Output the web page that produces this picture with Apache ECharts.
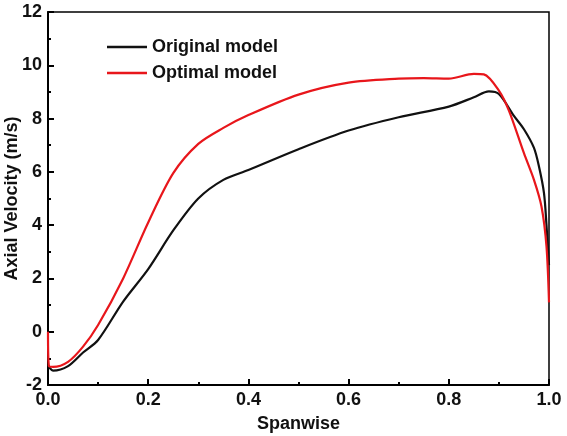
<!DOCTYPE html>
<html>
<head>
<meta charset="UTF-8" />
<title>Axial Velocity</title>
<script src="https://cdn.jsdelivr.net/npm/echarts@6/dist/echarts.min.js"></script>
<style type="text/css">
body{
	margin: 0px;
	background: #fff;
}
#chart{
	width: 567px;
	height: 436px;
}
</style>
</head>
<body>

<div id="chart"></div>

<script type="text/javascript">

// spanwise positions and axial velocity (m/s)
var spanOriginal = [0, 0.003, 0.01, 0.04, 0.07, 0.1, 0.15, 0.2, 0.25, 0.3, 0.35, 0.4, 0.5, 0.6, 0.7, 0.8, 0.85, 0.88, 0.9, 0.93, 0.95, 0.97, 0.98, 0.99, 0.995, 1.0];
var velOriginal = [-1.25, -1.35, -1.46, -1.29, -0.78, -0.31, 1.13, 2.35, 3.8, 5.0, 5.7, 6.07, 6.85, 7.55, 8.05, 8.45, 8.8, 9.02, 8.92, 8.1, 7.6, 6.9, 6.2, 5.2, 4.0, 2.5];

var spanOptimal = [0, 0.002, 0.01, 0.04, 0.07, 0.1, 0.15, 0.2, 0.25, 0.3, 0.35, 0.4, 0.5, 0.6, 0.7, 0.75, 0.8, 0.85, 0.87, 0.9, 0.92, 0.95, 0.97, 0.985, 0.995, 1.0];
var velOptimal = [0.0, -1.3, -1.32, -1.13, -0.56, 0.25, 2.0, 4.1, 5.95, 7.05, 7.65, 8.13, 8.9, 9.35, 9.5, 9.52, 9.5, 9.68, 9.66, 9.05, 8.3, 6.7, 5.7, 4.7, 3.2, 1.1];

var seriesNames = ['Original model', 'Optimal model'];

function zip(xs, ys){
	var out = [];
	for(var i = 0; i < xs.length; i++){
		out.push([xs[i], ys[i]]);
	}
	return out;
}

var font = 'Liberation Sans, Arial, sans-serif';

var myChart = echarts.init(document.getElementById('chart'));

myChart.setOption({
	backgroundColor: '#fff',
	animation: false,
	grid: {
		left: 48,
		right: 18,
		top: 12,
		bottom: 51,
		outerBoundsMode: 'none',
		containLabel: false,
		show: true,
		borderColor: '#000',
		borderWidth: 1.5,
		backgroundColor: 'transparent'
	},
	legend: {
		orient: 'vertical',
		left: 102,
		top: 33,
		icon: 'rect',
		itemWidth: 40,
		itemHeight: 2.5,
		itemGap: 8,
		textStyle: {
			fontFamily: font,
			fontWeight: 'bold',
			fontSize: 18,
			color: '#111'
		},
		data: seriesNames
	},
	xAxis: {
		type: 'value',
		min: 0,
		max: 1,
		interval: 0.2,
		name: 'Spanwise',
		nameLocation: 'middle',
		nameGap: 30,
		nameTextStyle: {fontFamily: font, fontWeight: 'bold', fontSize: 18, color: '#111'},
		axisLine: {onZero: false, lineStyle: {color: '#000', width: 2}},
		axisTick: {inside: true, length: 6, lineStyle: {color: '#000', width: 2}},
		minorTick: {show: true, splitNumber: 2, length: 3, lineStyle: {color: '#000', width: 2}},
		splitLine: {show: false},
		axisLabel: {
			fontFamily: font, fontWeight: 'bold', fontSize: 18, color: '#111', margin: 6,
			formatter: function(v){ return v.toFixed(1); }
		}
	},
	yAxis: {
		type: 'value',
		min: -2,
		max: 12,
		interval: 2,
		name: 'Axial Velocity (m/s)',
		nameLocation: 'middle',
		nameGap: 27,
		nameMoveOverlap: false,
		nameTextStyle: {fontFamily: font, fontWeight: 'bold', fontSize: 18, color: '#111'},
		axisLine: {onZero: false, lineStyle: {color: '#000', width: 2}},
		axisTick: {inside: true, length: 6, lineStyle: {color: '#000', width: 2}},
		minorTick: {show: true, splitNumber: 2, length: 3, lineStyle: {color: '#000', width: 2}},
		splitLine: {show: false},
		axisLabel: {fontFamily: font, fontWeight: 'bold', fontSize: 18, color: '#111', margin: 6}
	},
	series: [
		{
			name: seriesNames[0],
			type: 'line',
			symbol: 'none',
			smooth: 0.3,
			color: '#111',
			lineStyle: {width: 2.2, color: '#111'},
			data: zip(spanOriginal, velOriginal)
		},
		{
			name: seriesNames[1],
			type: 'line',
			symbol: 'none',
			smooth: 0.3,
			color: '#e8161b',
			lineStyle: {width: 2.2, color: '#e8161b'},
			data: zip(spanOptimal, velOptimal)
		}
	]
});

</script>

</body>
</html>
